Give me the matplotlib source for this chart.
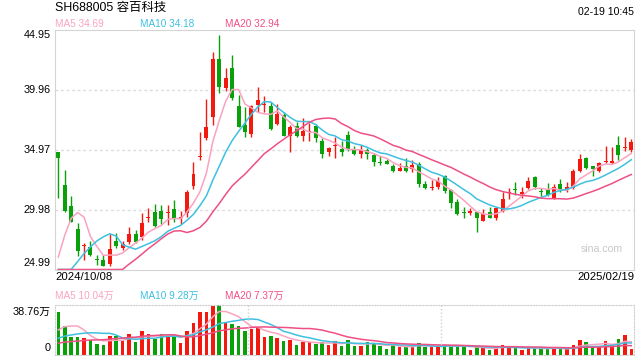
import numpy as np
import pandas as pd
import matplotlib
matplotlib.use("Agg")
import matplotlib.pyplot as plt

plt.rcParams['font.family'] = ['Liberation Sans', 'Noto Sans CJK SC', 'DejaVu Sans']

# 日K 2024/10/08 - 2025/02/19
opens = [34.77, 32.02, 30.24, 28.36, 26.98, 26.88, 25.80, 25.75, 25.44, 27.36,
         26.74, 27.30, 27.91, 27.72, 29.27, 29.74, 29.85, 29.66, 30.02, 29.24,
         29.72, 31.96, 34.32, 35.91, 37.71, 42.51, 40.12, 41.79, 38.60, 37.02,
         36.26, 38.68, 38.65, 38.60, 37.07, 37.85, 36.10, 36.90, 36.10, 36.40,
         36.93, 35.68, 34.74, 35.24, 35.02, 36.18, 34.93, 34.63, 34.91, 34.52,
         33.94, 34.05, 33.60, 33.18, 33.57, 33.35, 33.74, 32.07, 31.80, 31.88,
         32.80, 31.58, 30.60, 29.77, 29.69, 29.74, 29.05, 29.74, 29.24, 29.86,
         31.33, 31.69, 31.24, 31.74, 32.68, 31.49, 31.69, 30.91, 32.10, 31.69,
         31.74, 33.18, 34.24, 33.60, 33.18, 33.90, 33.82, 35.35, 35.10, 34.93]
highs = [34.77, 33.27, 31.10, 28.85, 27.16, 27.36, 26.19, 26.19, 27.91, 28.00,
         27.36, 28.55, 28.27, 29.66, 30.13, 30.41, 30.35, 30.35, 30.77, 29.85,
         31.60, 33.96, 36.40, 39.18, 43.06, 44.51, 41.79, 42.84, 39.51, 38.54,
         38.65, 40.15, 39.43, 38.90, 38.76, 38.07, 37.02, 37.24, 37.57, 37.15,
         37.07, 35.90, 35.21, 35.99, 35.68, 36.52, 35.29, 35.35, 35.07, 34.71,
         34.46, 34.18, 33.74, 33.82, 34.24, 34.10, 33.91, 32.35, 32.44, 32.71,
         32.85, 31.69, 30.85, 30.22, 30.13, 29.80, 30.02, 30.22, 30.22, 31.46,
         31.74, 32.24, 31.88, 32.71, 32.77, 31.80, 32.16, 32.07, 32.49, 32.24,
         33.32, 34.57, 34.32, 33.63, 33.91, 35.27, 35.18, 36.09, 36.04, 35.85]
lows = [30.96, 29.81, 28.91, 26.14, 25.77, 26.14, 25.36, 25.25, 25.25, 26.80,
        26.61, 27.08, 27.16, 27.44, 28.97, 28.56, 28.77, 28.69, 28.97, 28.74,
        29.33, 31.66, 34.10, 35.77, 37.02, 39.71, 39.85, 39.10, 36.85, 35.99,
        35.99, 38.07, 38.07, 36.60, 37.02, 36.10, 34.79, 36.04, 35.68, 35.68,
        35.57, 34.30, 34.46, 34.30, 34.46, 34.85, 34.52, 34.30, 34.18, 33.63,
        33.68, 33.74, 33.07, 33.15, 33.13, 33.13, 31.82, 31.69, 31.60, 31.66,
        31.38, 30.13, 29.52, 29.30, 29.52, 28.13, 29.03, 29.24, 29.10, 29.78,
        30.85, 31.19, 30.91, 31.69, 31.69, 31.13, 31.13, 30.88, 31.41, 31.46,
        31.66, 33.13, 33.35, 32.80, 33.13, 33.85, 33.74, 34.10, 34.85, 34.74]
closes = [34.30, 29.88, 28.97, 26.55, 27.04, 26.19, 25.76, 25.30, 26.69, 26.97,
          27.13, 27.91, 27.25, 28.83, 29.38, 28.61, 29.19, 29.77, 29.19, 29.35,
          31.41, 32.91, 34.43, 36.88, 42.51, 40.21, 40.95, 39.29, 36.88, 36.46,
          38.60, 39.10, 38.71, 36.65, 37.90, 36.10, 36.82, 36.13, 36.52, 36.52,
          35.96, 34.63, 35.12, 35.35, 34.80, 35.02, 34.60, 34.96, 34.63, 33.96,
          33.88, 33.80, 33.18, 33.41, 33.18, 33.68, 32.10, 31.80, 31.85, 32.35,
          31.55, 30.49, 29.63, 29.72, 29.85, 29.30, 29.58, 29.30, 30.13, 30.88,
          31.41, 31.63, 31.41, 32.35, 31.88, 31.44, 31.19, 31.82, 31.69, 31.82,
          33.18, 34.18, 33.46, 33.35, 33.85, 34.00, 34.00, 34.55, 35.10, 35.60]
# 成交量(万手)
volumes = [33.1, 22.2, 13.7, 13.7, 12.9, 11.4, 8.3, 7.5, 14.5, 14.5,
           10.6, 16.0, 9.8, 18.4, 16.0, 12.2, 16.0, 14.5, 15.3, 9.1,
           18.4, 24.6, 33.1, 33.1, 37.7, 38.76, 24.6, 23.8, 22.2, 18.4,
           19.9, 20.7, 13.7, 14.5, 12.9, 10.6, 11.4, 7.5, 9.8, 9.8,
           8.3, 9.8, 7.5, 10.6, 6.7, 11.4, 6.7, 6.7, 9.8, 9.1,
           6.7, 4.4, 7.5, 6.0, 6.7, 6.0, 9.1, 6.0, 6.0, 6.7,
           7.5, 6.7, 6.7, 6.7, 3.6, 6.0, 5.2, 3.6, 6.0, 7.5,
           6.0, 5.2, 3.6, 5.2, 6.0, 4.4, 4.4, 5.2, 4.4, 4.4,
           7.5, 11.4, 9.8, 6.0, 6.0, 10.6, 7.5, 12.2, 15.3, 4.4]

# 前19个交易日(仅用于均线)
prev_closes = [19.6, 19.4, 19.8, 19.5, 19.3, 19.7, 19.9, 19.6, 19.4, 19.5,
               19.1, 19.27, 20.1, 20.3, 20.64, 20.8, 21.9, 24.14, 28.97]
prev_volumes = [5.2, 5.0, 5.4, 4.8, 5.1, 5.3, 4.9, 5.0, 5.2, 5.1,
                5.2, 5.0, 5.8, 7.0, 8.5, 9.2, 11.0, 14.0, 28.2]

title = "SH688005 容百科技"
time_str = "02-19 10:45"
start_date, end_date = "2024/10/08", "2025/02/19"
price_ticks = [44.95, 39.96, 34.97, 29.98, 24.99]
vol_top_label = "38.76万"
ma_labels = ["MA5 34.69", "MA10 34.18", "MA20 32.94"]
vma_labels = ["MA5 10.04万", "MA10 9.28万", "MA20 7.37万"]

RED, GREEN = '#f3190f', '#0aa00a'
C5, C10, C20 = '#f9a3c0', '#3ec0e0', '#ee4f84'
FRAME = '#d4d4d4'

n = len(closes)
x = np.arange(n)
o = np.array(opens); c = np.array(closes)
h = np.array(highs); l = np.array(lows)
v = np.array(volumes)
up = c >= o
cols = np.where(up, RED, GREEN)

allc = pd.Series(prev_closes + closes)
allv = pd.Series(prev_volumes + volumes)
k = len(prev_closes)
ma = {m: allc.rolling(m).mean().values[k:] for m in (5, 10, 20)}
vma = {m: allv.rolling(m).mean().values[k:] for m in (5, 10, 20)}

W, H = 640, 360
fig = plt.figure(figsize=(6.4, 3.6), dpi=100)

def fx(px):
    return px / W

def fy(py):
    return 1 - py / H

L, R = 55, 634
xlim = (-(58.3 - L) / 6.438, (R - 58.3) / 6.438)

# 价格区
ax = fig.add_axes([fx(L), fy(269.5), fx(R - L), (269.5 - 29.7) / H])
ymin, ymax = price_ticks[-1], price_ticks[0]
ax.set_xlim(*xlim)
ax.set_ylim(ymin, ymax)
ax.vlines(x, l, h, colors=cols, lw=1)
body = np.maximum(np.abs(c - o), 0.09)
ax.bar(x, body, bottom=np.minimum(o, c), width=0.62, color=cols, lw=0)
for m, col in ((5, C5), (10, C10), (20, C20)):
    ax.plot(x, np.clip(ma[m], ymin, ymax), color=col, lw=1.1, clip_on=False)
for t in price_ticks[1:-1]:
    ax.axhline(t, color='#dcdcdc', lw=1, ls=(0, (2, 2)), zorder=0)
for s in ax.spines.values():
    s.set_color(FRAME)
ax.set_xticks([]); ax.set_yticks([])

# 成交量区
vx = fig.add_axes([fx(L), fy(354.7), fx(R - L), (354.7 - 304.6) / H])
vmax = max(volumes)
vx.set_xlim(*xlim)
vx.set_ylim(0, vmax)
vx.bar(x, v, width=0.55, color=cols, lw=0)
for m, col in ((5, C5), (10, C10), (20, C20)):
    vx.plot(x, vma[m], color=col, lw=1.1)
for s in vx.spines.values():
    s.set_color('#cfcfcf'); s.set_linestyle((0, (1, 1.5)))
for f in (1 / 3, 2 / 3):
    vx.axvline(xlim[0] + f * (xlim[1] - xlim[0]), color='#cfcfcf', lw=1, ls=(0, (1, 1.5)))
vx.set_xticks([]); vx.set_yticks([])

# 文字
fig.text(fx(55), fy(8), title, fontsize=8.9, va='center', ha='left')
fig.text(fx(634), fy(12), time_str, fontsize=7.6, va='center', ha='right')
for s, col, px in zip(ma_labels, (C5, C10, C20), (55, 140, 225)):
    fig.text(fx(px), fy(24), s, color=col, fontsize=7.2, va='center')
for s, col, px in zip(vma_labels, (C5, C10, C20), (55, 140, 225)):
    fig.text(fx(px), fy(295.5), s, color=col, fontsize=7.2, va='center')
ypos = [34.7, 90, 150, 210, 263.5]
for t, py in zip(price_ticks, ypos):
    fig.text(fx(51), fy(py), "%.2f" % t, fontsize=7.8, ha='right', va='center')
fig.text(fx(51), fy(311.7), vol_top_label, fontsize=7.8, ha='right', va='center')
fig.text(fx(51), fy(348.3), "0", fontsize=7.8, ha='right', va='center')
fig.text(fx(55), fy(277), start_date, fontsize=8.2, ha='left', va='center')
fig.text(fx(634), fy(277), end_date, fontsize=8.2, ha='right', va='center')
fig.text(fx(602), fy(249), "sina.com", fontsize=7.6, color='#c8c8c8', ha='center', va='center')

fig.savefig("out.png", dpi=100)
